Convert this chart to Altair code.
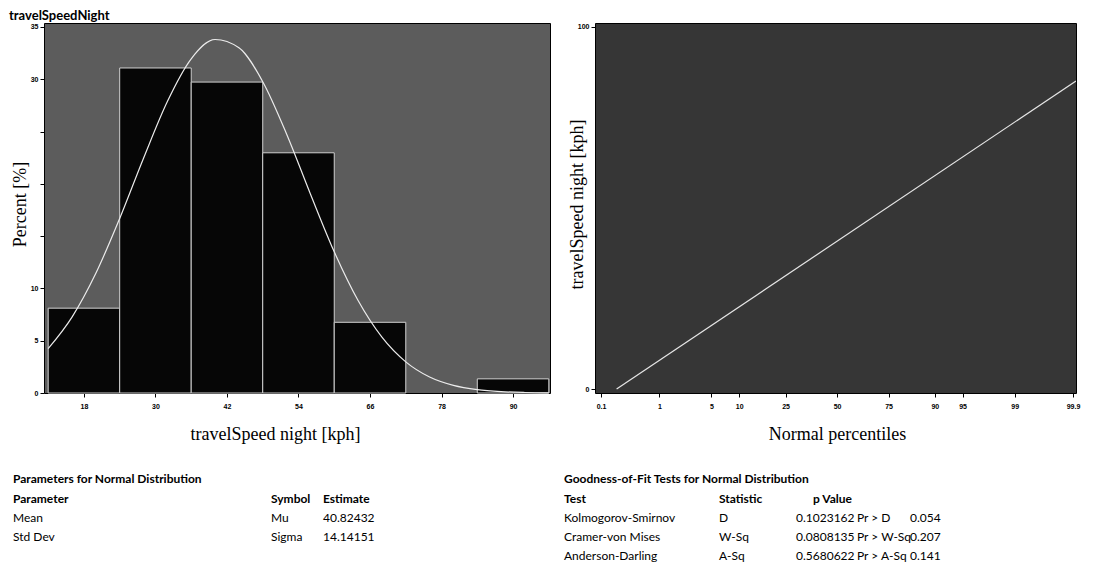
import altair as alt
import pandas as pd
from statistics import NormalDist

# ---------------- data ----------------
chart_title = "travelSpeedNight"

# histogram (bin midpoints, bin width 12 kph, percent of observations)
bin_mid = [18, 30, 42, 54, 66, 78, 90]
bin_percent = [8.11, 31.08, 29.73, 22.97, 6.76, 0.0, 1.35]
bin_width = 12

# fitted normal curve (percent scale)
curve_speed = [12, 16, 20, 24, 28, 32, 36, 40, 44, 48, 52, 56, 60, 64, 68, 72, 76, 80, 84, 88, 92, 96]
curve_percent = [4.24, 7.26, 11.45, 16.69, 22.45, 27.87, 31.95, 33.80, 33.01, 29.77, 24.77, 19.03,
                 13.50, 8.84, 5.34, 2.98, 1.53, 0.73, 0.32, 0.13, 0.05, 0.02]

left_x_ticks = [18, 30, 42, 54, 66, 78, 90]
left_y_ticks = [0, 5, 10, 15, 20, 25, 30, 35]
left_y_labelled = [0, 5, 10, 30, 35]

# normal probability plot
mu = 40.82432
sigma = 14.14151
ref_line_z = [-2.887, 3.13]
pct_tick_values = [0.1, 1, 5, 10, 25, 50, 75, 90, 95, 99, 99.9]
pct_tick_labels = ["0.1", "1", "5", "10", "25", "50", "75", "90", "95", "99", "99.9"]
right_y_ticks = [0, 100]

# tables
param_title = "Parameters for Normal Distribution"
param_header = ["Parameter", "Symbol", "Estimate"]
param_names = ["Mean", "Std Dev"]
param_symbols = ["Mu", "Sigma"]
param_estimates = [40.82432, 14.14151]

gof_title = "Goodness-of-Fit Tests for Normal Distribution"
gof_header = ["Test", "Statistic", "p Value"]
gof_tests = ["Kolmogorov-Smirnov", "Cramer-von Mises", "Anderson-Darling"]
gof_symbols = ["D", "W-Sq", "A-Sq"]
gof_stats = [0.1023162, 0.0808135, 0.5680622]
gof_pr = ["Pr > D", "Pr > W-Sq", "Pr > A-Sq"]
gof_pvalues = [0.054, 0.207, 0.141]

# ---------------- layout constants ----------------
LW, RW, H = 506, 481, 370
GAP = 45
LEFT_X0, RIGHT_X0, TOP_Y0 = 43, 594, 22
TICK_FONT = "Liberation Sans"
TITLE_FONT = "Liberation Serif"
TABLE_FONT = "Lato"
TABLE_SIZE = 12
ROW_Y = [478, 498, 517, 536, 555]


def table_layer(cells, col_x, x0):
    df = pd.DataFrame(cells)
    x_tab = alt.Scale(domain=list(range(len(col_x))), range=[c - x0 for c in col_x])
    y_tab = alt.Scale(domain=list(range(len(ROW_Y))), range=[r - TOP_Y0 for r in ROW_Y])
    base = alt.Chart(df).encode(
        x=alt.X("slot:Q", scale=x_tab, axis=None),
        y=alt.Y("row:Q", scale=y_tab, axis=None),
        text="text:N",
    )
    b = base.transform_filter("datum.bold").mark_text(
        align="left", baseline="middle", font=TABLE_FONT, fontSize=TABLE_SIZE,
        fontWeight="bold", color="#000000")
    r = base.transform_filter("!datum.bold").mark_text(
        align="left", baseline="middle", font=TABLE_FONT, fontSize=TABLE_SIZE,
        fontWeight="normal", color="#000000")
    return alt.layer(b, r)


# ---------------- left: histogram ----------------
hist_df = pd.DataFrame({"mid": bin_mid, "percent": bin_percent})
curve_df = pd.DataFrame({"speed": curve_speed, "percent": curve_percent})

x_left = alt.Scale(domain=[11.3, 96.2], nice=False, zero=False)
y_left = alt.Scale(domain=[0, 35.38], nice=False, zero=False)

lab_cond = " || ".join(f"datum.value == {v}" for v in left_y_labelled)

bars = alt.Chart(hist_df).transform_filter("datum.percent > 0").transform_calculate(
    lo=f"datum.mid - {bin_width / 2}", hi=f"datum.mid + {bin_width / 2}", base="0"
).mark_rect(fill="#060606", stroke="#d0d0d0", strokeWidth=1).encode(
    x=alt.X("lo:Q", scale=x_left,
            axis=alt.Axis(values=left_x_ticks, title="travelSpeed night [kph]",
                          titleX=231, titleY=41, titleAlign="center",
                          titleBaseline="middle", labelPadding=5, tickSize=4)),
    x2="hi:Q",
    y=alt.Y("percent:Q", scale=y_left,
            axis=alt.Axis(values=left_y_ticks, title="Percent [%]",
                          labelExpr=f"({lab_cond}) ? datum.label : ''",
                          titleX=-24, titleY=H / 2 - 4, titleAngle=-90, titleAlign="center",
                          titleBaseline="middle", labelPadding=2, tickSize=4)),
    y2="base:Q",
)

curve = alt.Chart(curve_df).mark_line(color="#ececec", strokeWidth=1.2, interpolate="monotone").encode(
    x=alt.X("speed:Q", scale=x_left),
    y=alt.Y("percent:Q", scale=y_left),
)

left_cells = []
left_cells.append({"slot": 0, "row": 0, "text": param_title, "bold": True})
for i, h in enumerate(param_header):
    left_cells.append({"slot": i, "row": 1, "text": h, "bold": True})
for r in range(len(param_names)):
    left_cells.append({"slot": 0, "row": 2 + r, "text": param_names[r], "bold": False})
    left_cells.append({"slot": 1, "row": 2 + r, "text": param_symbols[r], "bold": False})
    left_cells.append({"slot": 2, "row": 2 + r, "text": f"{param_estimates[r]:.5f}", "bold": False})

left_table = table_layer(left_cells, [12, 270, 322], LEFT_X0)

left = alt.layer(alt.layer(bars, curve), left_table).resolve_scale(
    x="independent", y="independent"
).properties(
    width=LW, height=H,
    view=alt.ViewBackground(fill="#5c5c5c", stroke="#000000", strokeWidth=1),
    title=alt.TitleParams(chart_title, anchor="start", frame="group", dx=-35, offset=0,
                          font=TABLE_FONT, fontSize=13, fontWeight="bold", color="#000000"),
)

# ---------------- right: normal probability plot ----------------
nd = NormalDist()
tick_z = [nd.inv_cdf(p / 100) for p in pct_tick_values]
label_expr = " : ".join(f"abs(datum.value - ({z:.5f})) < 0.001 ? '{lab}'"
                        for z, lab in zip(tick_z, pct_tick_labels)) + " : ''"

line_df = pd.DataFrame({"z": ref_line_z})
x_right = alt.Scale(domain=[-3.17, 3.13], nice=False, zero=False)
y_right = alt.Scale(domain=[-1.1, 101.1], nice=False, zero=False)

ref_line = alt.Chart(line_df).transform_calculate(
    speed=f"{mu} + {sigma} * datum.z"
).mark_line(color="#e6e6e6", strokeWidth=1.2, clip=True).encode(
    x=alt.X("z:Q", scale=x_right,
            axis=alt.Axis(values=tick_z, labelExpr=label_expr, title="Normal percentiles",
                          titleX=242, titleY=41, titleAlign="center", titleBaseline="middle",
                          labelPadding=5, tickSize=4)),
    y=alt.Y("speed:Q", scale=y_right,
            axis=alt.Axis(values=right_y_ticks, title="travelSpeed night [kph]",
                          titleX=-18, titleY=H / 2 - 4, titleAngle=-90, titleAlign="center",
                          titleBaseline="middle", labelPadding=2, tickSize=4)),
)

right_cells = []
right_cells.append({"slot": 0, "row": 0, "text": gof_title, "bold": True})
right_cells.append({"slot": 0, "row": 1, "text": gof_header[0], "bold": True})
right_cells.append({"slot": 1, "row": 1, "text": gof_header[1], "bold": True})
right_cells.append({"slot": 3, "row": 1, "text": gof_header[2], "bold": True})
for r in range(len(gof_tests)):
    right_cells.append({"slot": 0, "row": 2 + r, "text": gof_tests[r], "bold": False})
    right_cells.append({"slot": 1, "row": 2 + r, "text": gof_symbols[r], "bold": False})
    right_cells.append({"slot": 2, "row": 2 + r, "text": f"{gof_stats[r]:.7f}", "bold": False})
    right_cells.append({"slot": 4, "row": 2 + r, "text": gof_pr[r], "bold": False})
    right_cells.append({"slot": 5, "row": 2 + r, "text": f"{gof_pvalues[r]:.3f}", "bold": False})

right_table = table_layer(right_cells, [563, 718, 795, 812, 856, 909], RIGHT_X0)

right = alt.layer(ref_line, right_table).resolve_scale(
    x="independent", y="independent"
).properties(
    width=RW, height=H,
    view=alt.ViewBackground(fill="#363636", stroke="#000000", strokeWidth=1),
)

chart = alt.hconcat(left, right, spacing=GAP, bounds="flush").properties(
    padding={"left": 0, "top": 1, "right": 0, "bottom": 0},
    background="#ffffff",
).configure_axis(
    labelFont=TICK_FONT, labelFontSize=7, labelFontWeight="bold", labelColor="#000000",
    tickColor="#000000", tickWidth=1, domain=False, grid=False,
    titleFont=TITLE_FONT, titleFontSize=18, titleFontWeight="normal", titleColor="#000000",
)

chart.save("out.html", embed_options={"renderer": "svg", "actions": False})
